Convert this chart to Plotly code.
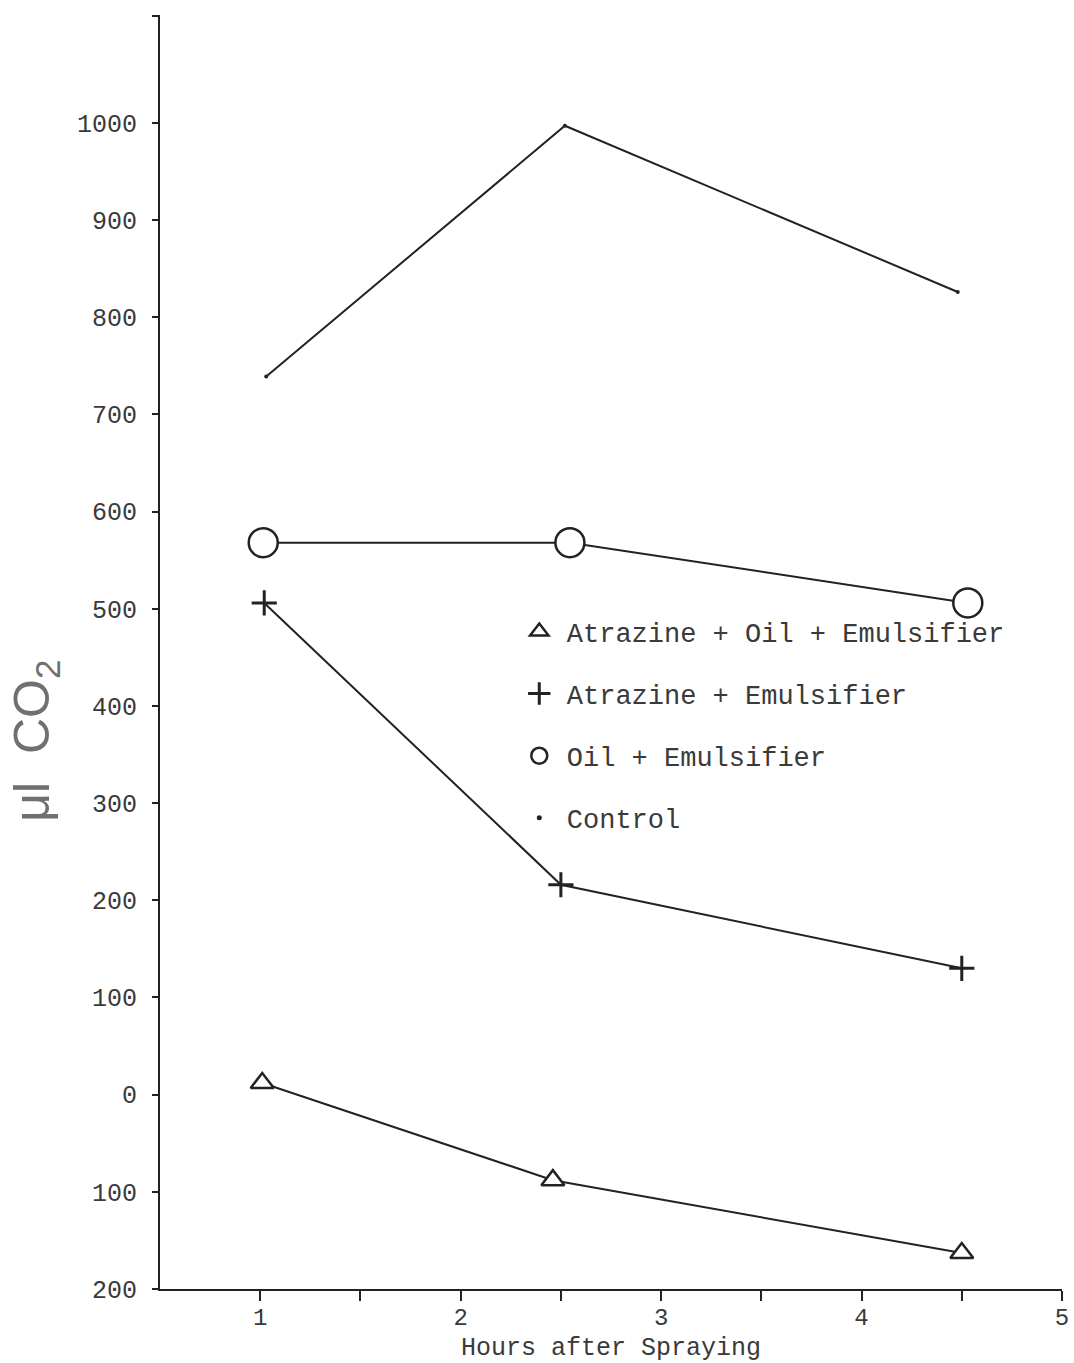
import plotly.graph_objects as go

# Data
series_names = ["Atrazine + Oil + Emulsifier", "Atrazine + Emulsifier", "Oil + Emulsifier", "Control"]
x_triangle = [1.01, 2.46, 4.5]
y_triangle = [12, -88, -163]
x_plus = [1.02, 2.5, 4.5]
y_plus = [506, 216, 130]
x_circle = [1.015, 2.545, 4.53]
y_circle = [568, 568, 506]
x_control = [1.03, 2.52, 4.48]
y_control = [739, 997, 826]

y_tickvals = [-200, -100, 0, 100, 200, 300, 400, 500, 600, 700, 800, 900, 1000, 1110]
y_ticktext = ["200", "100", "0", "100", "200", "300", "400", "500", "600", "700", "800", "900", "1000", ""]
x_tickvals = [1, 1.5, 2, 2.5, 3, 3.5, 4, 4.5, 5]
x_ticktext = ["1", "", "2", "", "3", "", "4", "", "5"]

LINE = "#222222"
TXT = "#3a3a3a"
FONT = "Liberation Mono"

fig = go.Figure()

# (symbol, size, marker line width, fill colour)
specs = [
    ("triangle-up", 20, 2.5, "white"),
    ("cross-thin-open", 18, 3, LINE),
    ("circle", 29, 2.5, "white"),
    ("circle", 4, 0, LINE),
]

for name, xs, ys, (sym, size, lw, fill) in zip(
        series_names,
        [x_triangle, x_plus, x_circle, x_control],
        [y_triangle, y_plus, y_circle, y_control],
        specs):
    fig.add_trace(go.Scatter(
        x=xs, y=ys, mode="lines+markers", name=name, showlegend=False,
        line=dict(color=LINE, width=2),
        marker=dict(symbol=sym, size=size, color=fill, line=dict(color=LINE, width=lw)),
    ))

for i, (name, (sym, size, lw, fill)) in enumerate(zip(series_names, specs)):
    fig.add_trace(go.Scatter(
        x=[None], y=[None], mode="markers", name=name, legendgroup=f"g{i}",
        marker=dict(symbol=sym, size=size if size > 4 else 5, color=fill,
                    line=dict(color=LINE, width=lw)),
    ))

fig.update_layout(
    width=1074, height=1363,
    margin=dict(l=160, r=12, t=15, b=74),
    paper_bgcolor="white", plot_bgcolor="white",
    font=dict(family=FONT, size=24, color=TXT),
    legend=dict(
        x=0.39, y=0.535, xanchor="left", yanchor="top",
        font=dict(family=FONT, size=27, color=TXT),
        bgcolor="rgba(0,0,0,0)", tracegroupgap=24, itemwidth=45,
    ),
    xaxis=dict(
        range=[0.5, 5.0], tickvals=x_tickvals, ticktext=x_ticktext,
        ticks="outside", ticklen=10, tickwidth=2, tickcolor=LINE,
        showline=True, linecolor=LINE, linewidth=2, showgrid=False, zeroline=False,
        automargin=False, ticklabelstandoff=-5,
        title=dict(text="Hours after Spraying", font=dict(family=FONT, size=25, color=TXT)),
        tickfont=dict(family=FONT, size=24, color=TXT),
    ),
    yaxis=dict(
        range=[-200, 1111], tickvals=y_tickvals, ticktext=y_ticktext,
        ticks="outside", ticklen=6, tickwidth=2, tickcolor=LINE,
        showline=True, linecolor=LINE, linewidth=2, showgrid=False, zeroline=False,
        automargin=False,
        tickfont=dict(family=FONT, size=25, color=TXT), ticklabelstandoff=10,
    ),
)

fig.add_annotation(
    text="μl&nbsp;&nbsp;CO<sub>2</sub>", xref="paper", yref="paper",
    x=-0.138, y=0.43, xanchor="center", yanchor="middle", textangle=-90, showarrow=False,
    font=dict(family="Liberation Sans", size=50, color="#707070"),
)

fig.write_html("out.html")
